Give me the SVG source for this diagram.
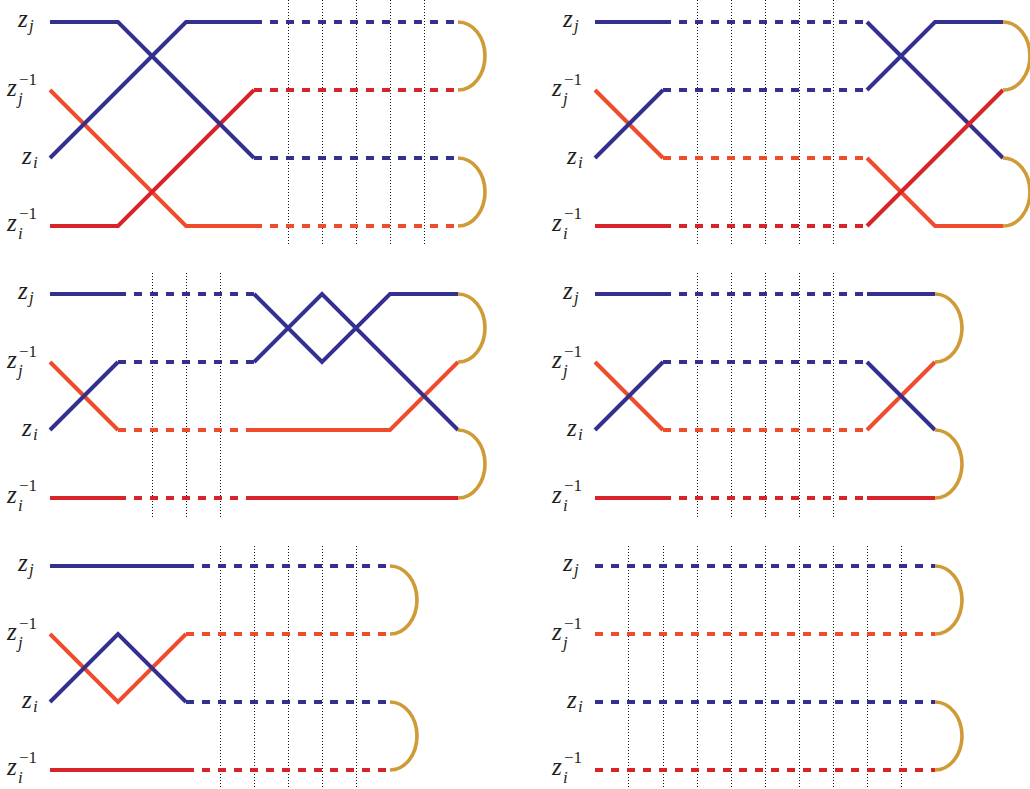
<svg xmlns="http://www.w3.org/2000/svg" width="1030" height="789" viewBox="0 0 1030 789">
<style>
.ln{fill:none;stroke-width:4;stroke-linejoin:miter;stroke-linecap:butt}
.b{stroke:#34308f}.o{stroke:#ef4b2d}.r{stroke:#d9232a}.g{stroke:#cf9b36;stroke-width:3.6}
.d{stroke-dasharray:8 8}
.dot{fill:none;stroke:#111;stroke-width:1;stroke-dasharray:1 2}
.z{font-style:italic;font-size:25px}
.s{font-style:italic;font-size:17px}
.e{font-style:normal;font-size:17px}
</style>
<rect width="1030" height="789" fill="#fff"/>

<!-- Panel 1 -->
<g id="panel1">
  <g id="p1-grid"><path class="dot" d="M288.5,0V246M322.5,0V246M356.5,0V246M390.5,0V246M424.5,0V246"/></g>
  <g id="p1-labels" font-family="Liberation Serif, Times New Roman, serif" fill="#231f20">
    <text class="z" x="18" y="27">z</text><text class="s" x="29" y="31">j</text>
    <text class="z" x="7" y="96">z</text><text class="s" x="18" y="104">j</text><text class="e" x="19" y="85">−1</text>
    <text class="z" x="22" y="164">z</text><text class="s" x="33" y="168">i</text>
    <text class="z" x="7" y="231">z</text><text class="s" x="18" y="239">i</text><text class="e" x="19" y="219">−1</text>
  </g>
  <g id="p1-connectors">
    <path class="ln o" d="M50,90L186,226H254"/>
    <path class="ln r" d="M50,226H118L254,90"/>
    <path class="ln b" d="M50,22H118L254,158"/>
    <path class="ln b" d="M50,158L186,22H254"/>
    <path class="ln b d" d="M254,22H458M254,158H458"/>
    <path class="ln r d" d="M254,90H458"/>
    <path class="ln o d" d="M254,226H458"/>
    <path class="ln g" d="M458,22A27,34 0 0 1 458,90M458,158A27,34 0 0 1 458,226"/>
  </g>
</g>

<!-- Panel 2 -->
<g id="panel2" transform="translate(545,0)">
  <g id="p2-grid"><path class="dot" d="M152.5,0V246M186.5,0V246M220.5,0V246M254.5,0V246M288.5,0V246"/></g>
  <g id="p2-labels" font-family="Liberation Serif, Times New Roman, serif" fill="#231f20">
    <text class="z" x="18" y="27">z</text><text class="s" x="29" y="31">j</text>
    <text class="z" x="7" y="96">z</text><text class="s" x="18" y="104">j</text><text class="e" x="19" y="85">−1</text>
    <text class="z" x="22" y="164">z</text><text class="s" x="33" y="168">i</text>
    <text class="z" x="7" y="231">z</text><text class="s" x="18" y="239">i</text><text class="e" x="19" y="219">−1</text>
  </g>
  <g id="p2-connectors">
    <path class="ln o" d="M50,90L118,158"/>
    <path class="ln b" d="M50,22H118M50,158L118,90"/>
    <path class="ln r" d="M50,226H118"/>
    <path class="ln b d" d="M118,22H322M118,90H322"/>
    <path class="ln o d" d="M118,158H322"/>
    <path class="ln r d" d="M118,226H322"/>
    <path class="ln o" d="M322,158L390,226H458"/>
    <path class="ln b" d="M322,22L458,158M322,90L390,22H458"/>
    <path class="ln r" d="M322,226L458,90"/>
    <path class="ln g" d="M458,22A27,34 0 0 1 458,90M458,158A27,34 0 0 1 458,226"/>
  </g>
</g>

<!-- Panel 3 -->
<g id="panel3" transform="translate(0,272)">
  <g id="p3-grid"><path class="dot" d="M152.5,1V245M186.5,1V245M220.5,1V245"/></g>
  <g id="p3-labels" font-family="Liberation Serif, Times New Roman, serif" fill="#231f20">
    <text class="z" x="18" y="27">z</text><text class="s" x="29" y="31">j</text>
    <text class="z" x="7" y="96">z</text><text class="s" x="18" y="104">j</text><text class="e" x="19" y="85">−1</text>
    <text class="z" x="22" y="164">z</text><text class="s" x="33" y="168">i</text>
    <text class="z" x="7" y="231">z</text><text class="s" x="18" y="239">i</text><text class="e" x="19" y="219">−1</text>
  </g>
  <g id="p3-connectors">
    <path class="ln o" d="M50,90L118,158"/>
    <path class="ln b" d="M50,22H118M50,158L118,90"/>
    <path class="ln r" d="M50,226H118"/>
    <path class="ln b d" d="M118,22H254M118,90H254"/>
    <path class="ln o d" d="M118,158H254"/>
    <path class="ln r d" d="M118,226H254"/>
    <path class="ln o" d="M254,158H390L458,90"/>
    <path class="ln r" d="M254,226H458"/>
    <path class="ln b" d="M254,22L322,90L390,22H458M254,90L322,22L458,158"/>
    <path class="ln g" d="M458,22A27,34 0 0 1 458,90M458,158A27,34 0 0 1 458,226"/>
  </g>
</g>

<!-- Panel 4 -->
<g id="panel4" transform="translate(545,272)">
  <g id="p4-grid"><path class="dot" d="M152.5,1V245M186.5,1V245M220.5,1V245M254.5,1V245M288.5,1V245"/></g>
  <g id="p4-labels" font-family="Liberation Serif, Times New Roman, serif" fill="#231f20">
    <text class="z" x="18" y="27">z</text><text class="s" x="29" y="31">j</text>
    <text class="z" x="7" y="96">z</text><text class="s" x="18" y="104">j</text><text class="e" x="19" y="85">−1</text>
    <text class="z" x="22" y="164">z</text><text class="s" x="33" y="168">i</text>
    <text class="z" x="7" y="231">z</text><text class="s" x="18" y="239">i</text><text class="e" x="19" y="219">−1</text>
  </g>
  <g id="p4-connectors">
    <path class="ln o" d="M50,90L118,158"/>
    <path class="ln b" d="M50,22H118M50,158L118,90"/>
    <path class="ln r" d="M50,226H118"/>
    <path class="ln b d" d="M118,22H322M118,90H322"/>
    <path class="ln o d" d="M118,158H322"/>
    <path class="ln r d" d="M118,226H322"/>
    <path class="ln o" d="M322,158L390,90"/>
    <path class="ln b" d="M322,22H390M322,90L390,158"/>
    <path class="ln r" d="M322,226H390"/>
    <path class="ln g" d="M390,22A27,34 0 0 1 390,90M390,158A27,34 0 0 1 390,226"/>
  </g>
</g>

<!-- Panel 5 -->
<g id="panel5" transform="translate(0,544)">
  <g id="p5-grid"><path class="dot" d="M220.5,2V245M254.5,2V245M288.5,2V245M322.5,2V245M356.5,2V245"/></g>
  <g id="p5-labels" font-family="Liberation Serif, Times New Roman, serif" fill="#231f20">
    <text class="z" x="18" y="27">z</text><text class="s" x="29" y="31">j</text>
    <text class="z" x="7" y="96">z</text><text class="s" x="18" y="104">j</text><text class="e" x="19" y="85">−1</text>
    <text class="z" x="22" y="164">z</text><text class="s" x="33" y="168">i</text>
    <text class="z" x="7" y="231">z</text><text class="s" x="18" y="239">i</text><text class="e" x="19" y="219">−1</text>
  </g>
  <g id="p5-connectors">
    <path class="ln o" d="M50,90L118,158L186,90"/>
    <path class="ln b" d="M50,22H186M50,158L118,90L186,158"/>
    <path class="ln r" d="M50,226H186"/>
    <path class="ln b d" d="M186,22H390M186,158H390"/>
    <path class="ln o d" d="M186,90H390"/>
    <path class="ln r d" d="M186,226H390"/>
    <path class="ln g" d="M390,22A27,34 0 0 1 390,90M390,158A27,34 0 0 1 390,226"/>
  </g>
</g>

<!-- Panel 6 -->
<g id="panel6" transform="translate(545,544)">
  <g id="p6-grid"><path class="dot" d="M83.5,2V245M118.5,2V245M152.5,2V245M186.5,2V245M220.5,2V245M254.5,2V245M288.5,2V245M322.5,2V245M356.5,2V245"/></g>
  <g id="p6-labels" font-family="Liberation Serif, Times New Roman, serif" fill="#231f20">
    <text class="z" x="18" y="27">z</text><text class="s" x="29" y="31">j</text>
    <text class="z" x="7" y="96">z</text><text class="s" x="18" y="104">j</text><text class="e" x="19" y="85">−1</text>
    <text class="z" x="22" y="164">z</text><text class="s" x="33" y="168">i</text>
    <text class="z" x="7" y="231">z</text><text class="s" x="18" y="239">i</text><text class="e" x="19" y="219">−1</text>
  </g>
  <g id="p6-connectors">
    <path class="ln b d" d="M50,22H390M50,158H390"/>
    <path class="ln o d" d="M50,90H390"/>
    <path class="ln r d" d="M50,226H390"/>
    <path class="ln g" d="M390,22A27,34 0 0 1 390,90M390,158A27,34 0 0 1 390,226"/>
  </g>
</g>
</svg>
